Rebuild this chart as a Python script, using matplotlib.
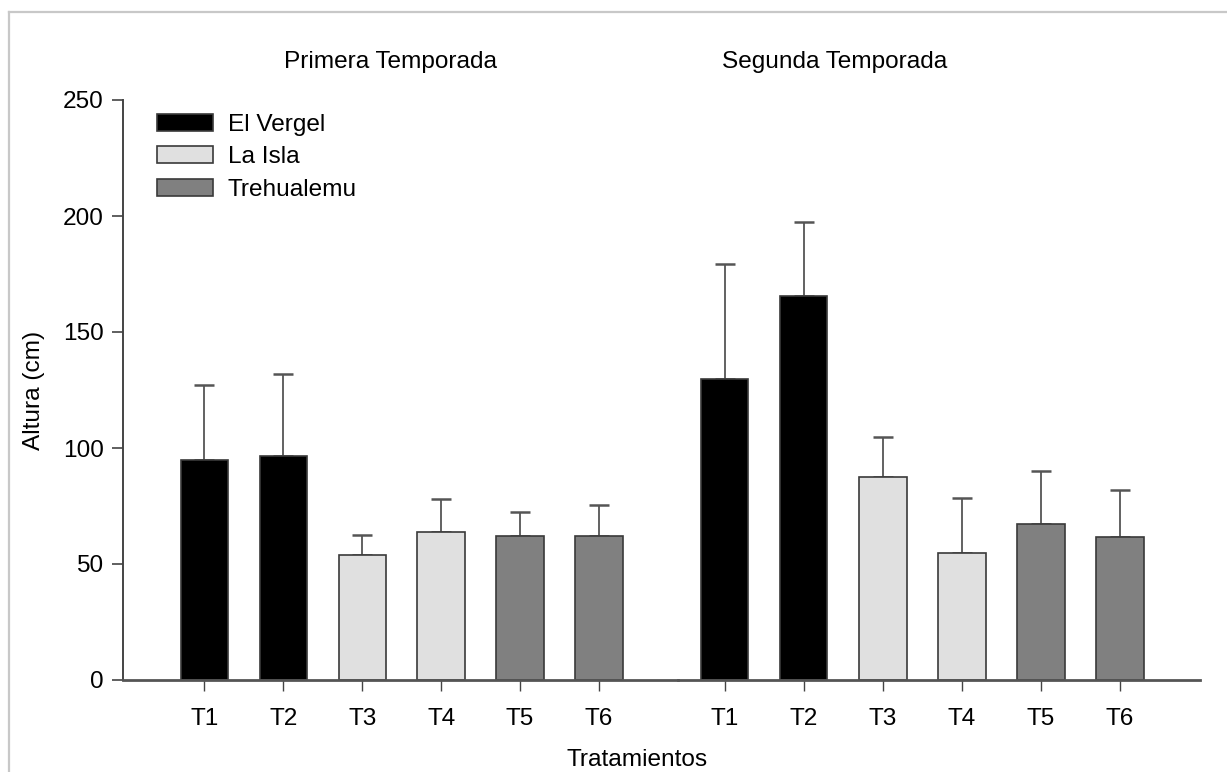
import numpy as np
import matplotlib
matplotlib.use("Agg")
import matplotlib.pyplot as plt
from matplotlib.patches import Patch
from matplotlib.lines import Line2D

plt.rcParams['font.family'] = ['Liberation Sans', 'DejaVu Sans']

#data
tratamientos = ['T1', 'T2', 'T3', 'T4', 'T5', 'T6']
localidades = ['El Vergel', 'El Vergel', 'La Isla', 'La Isla', 'Trehualemu', 'Trehualemu']
primera_media = [94.7, 96.7, 53.9, 63.6, 61.9, 62.0]
primera_error = [32.4, 35.1, 8.7, 14.3, 10.7, 13.4]
segunda_media = [129.7, 165.4, 87.6, 54.9, 67.3, 61.7]
segunda_error = [49.6, 32.2, 17.3, 23.7, 22.8, 20.2]

colores = {'El Vergel': '#000000', 'La Isla': '#e0e0e0', 'Trehualemu': '#808080'}
edge = '#3a3a3a'
errc = '#555555'
fs = 17.6

W, H = 1227, 772
fig = plt.figure(figsize=(W / 100, H / 100), dpi=100)

#light frame around the whole figure
fig.add_artist(Line2D([9 / W, 9 / W], [0, 1 - 12 / H], color='#c8c8c8', lw=1.6))
fig.add_artist(Line2D([9 / W, 1], [1 - 12 / H, 1 - 12 / H], color='#c8c8c8', lw=1.6))

bottom = 1 - 680 / H
height = (680 - 100) / H
ax1 = fig.add_axes([123 / W, bottom, (678 - 123) / W, height])
ax2 = fig.add_axes([678 / W, bottom, (1200 - 678) / W, height])

x = np.arange(1, len(tratamientos) + 1)


def draw_panel(ax, media, error):
    cols = [colores[l] for l in localidades]
    ax.bar(x, media, width=0.6, color=cols, edgecolor=edge, linewidth=1.2, zorder=2)
    ax.errorbar(x, media, yerr=[np.zeros(len(media)), error], fmt='none',
                ecolor=errc, elinewidth=1.3, capsize=7, capthick=1.8, zorder=1)
    ax.set_ylim(0, 250)
    ax.set_xticks(x)
    ax.set_xticklabels(tratamientos, fontsize=fs)
    ax.tick_params(axis='x', length=8, width=1.0, color='#444444', pad=12)
    for s in ['top', 'right']:
        ax.spines[s].set_visible(False)
    ax.spines['bottom'].set_color('#555555')
    ax.spines['bottom'].set_linewidth(2.0)


draw_panel(ax1, primera_media, primera_error)
draw_panel(ax2, segunda_media, segunda_error)

ax1.set_xlim(-0.03, 7.0)
ax2.set_xlim(0.41, 7.01)

ax1.set_yticks([0, 50, 100, 150, 200, 250])
ax1.tick_params(axis='y', length=8, width=1.2, color='#444444', labelsize=fs, pad=6)
ax1.spines['left'].set_color('#444444')
ax1.spines['left'].set_linewidth(1.4)
ax1.set_ylabel('Altura (cm)', fontsize=fs)
ax1.yaxis.set_label_coords(-0.14, 0.5)

ax2.spines['left'].set_visible(False)
ax2.set_yticks([])
ax2.patch.set_alpha(0)

#legend
handles = [Patch(facecolor=colores[k], edgecolor=edge, linewidth=1.2, label=k)
           for k in ['El Vergel', 'La Isla', 'Trehualemu']]
ax1.legend(handles=handles, loc='upper left', bbox_to_anchor=(34 / 555, 1 - 14 / 580),
           frameon=False, fontsize=fs, handlelength=2.3, handleheight=0.7,
           handletextpad=0.6, labelspacing=0.42, borderpad=0, borderaxespad=0)

fig.text(390 / W, 1 - 62 / H, 'Primera Temporada', ha='center', va='center', fontsize=fs)
fig.text(835 / W, 1 - 62 / H, 'Segunda Temporada', ha='center', va='center', fontsize=fs)
fig.text(637 / W, 1 - 760 / H, 'Tratamientos', ha='center', va='center', fontsize=fs)

fig.savefig('out.png', dpi=100)
